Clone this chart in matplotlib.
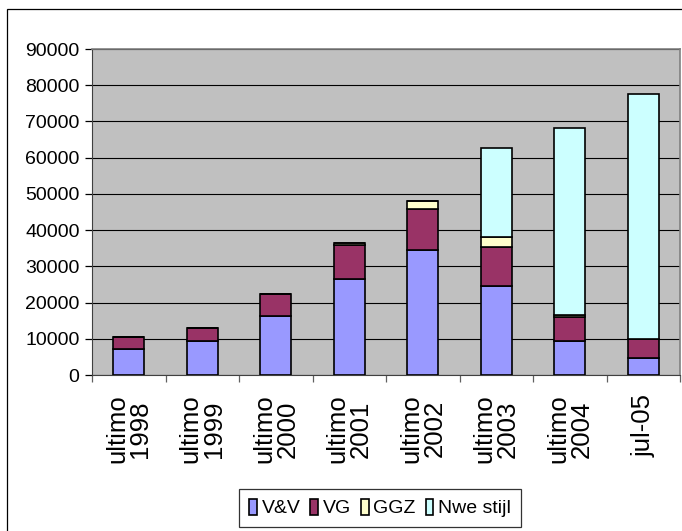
import matplotlib
matplotlib.use("Agg")
import matplotlib.pyplot as plt
from matplotlib.patches import Rectangle
import numpy as np

plt.rcParams['font.family'] = ['Liberation Sans', 'DejaVu Sans']

categories = ["ultimo\n1998", "ultimo\n1999", "ultimo\n2000", "ultimo\n2001",
              "ultimo\n2002", "ultimo\n2003", "ultimo\n2004", "jul-05"]
series_names = ["V&V", "VG", "GGZ", "Nwe stijl"]
vv = [7300, 9400, 16200, 26600, 34400, 24600, 9500, 4700]
vg = [3200, 3700, 6300, 9300, 11400, 10850, 6600, 5300]
ggz = [0, 0, 0, 600, 2100, 2650, 600, 0]
nwe = [0, 0, 0, 0, 0, 24500, 51600, 67600]
colors = ["#9999FF", "#993366", "#FFFFCC", "#CCFFFF"]
y_ticks = list(range(0, 90001, 10000))

fig = plt.figure(figsize=(6.82, 5.31), dpi=100)
fig.patch.set_facecolor("white")

# outer chart frame
fig.patches.append(Rectangle((7 / 682, -0.2), 1.2, 0.2 + (531 - 9) / 531,
                             transform=fig.transFigure, fill=False,
                             edgecolor="black", linewidth=0.9))

ax = fig.add_axes([92 / 682, 156 / 531, 588 / 682, 326 / 531])
ax.set_facecolor("#C0C0C0")

x = np.arange(len(categories))
bottom = np.zeros(len(categories))
handles = []
for name, vals, col in zip(series_names, [vv, vg, ggz, nwe], colors):
    vals = np.array(vals, dtype=float)
    b = ax.bar(x, vals, width=0.42, bottom=bottom, color=col,
               edgecolor="black", linewidth=1.2, label=name, zorder=3)
    handles.append(b)
    bottom += vals

ax.set_xlim(-0.5, len(categories) - 0.5)
ax.set_ylim(0, 90000)
ax.set_yticks(y_ticks)
ax.set_yticklabels([str(v) for v in y_ticks], fontsize=14)
ax.yaxis.grid(True, color="black", linewidth=0.8, zorder=0)
ax.set_axisbelow(True)

ax.set_xticks(x)
ax.set_xticklabels(categories, rotation=90, fontsize=18.5, ha="center",
                   va="top", multialignment="center", linespacing=0.95)
ax.set_xticks(np.arange(-0.5, len(categories)), minor=True)
ax.tick_params(axis="x", which="major", length=0, pad=14)
ax.tick_params(axis="x", which="minor", length=5, width=0.9, color="#606060")
ax.tick_params(axis="y", length=5, width=0.9, pad=4)

for side in ["top", "right"]:
    ax.spines[side].set_color("#808080")
    ax.spines[side].set_linewidth(1.2)
ax.spines["left"].set_color("#404040")
ax.spines["bottom"].set_color("#404040")

leg = fig.legend(handles=handles, labels=series_names, ncol=4,
                 loc="center", bbox_to_anchor=(380 / 682, (531 - 508) / 531),
                 fontsize=14, frameon=True, fancybox=False,
                 handlelength=0.4, handleheight=0.9, handletextpad=0.25,
                 columnspacing=0.5, borderpad=0.5, borderaxespad=0)
leg.get_frame().set_edgecolor("black")
leg.get_frame().set_linewidth(0.9)

fig.savefig("out.png", dpi=100)
